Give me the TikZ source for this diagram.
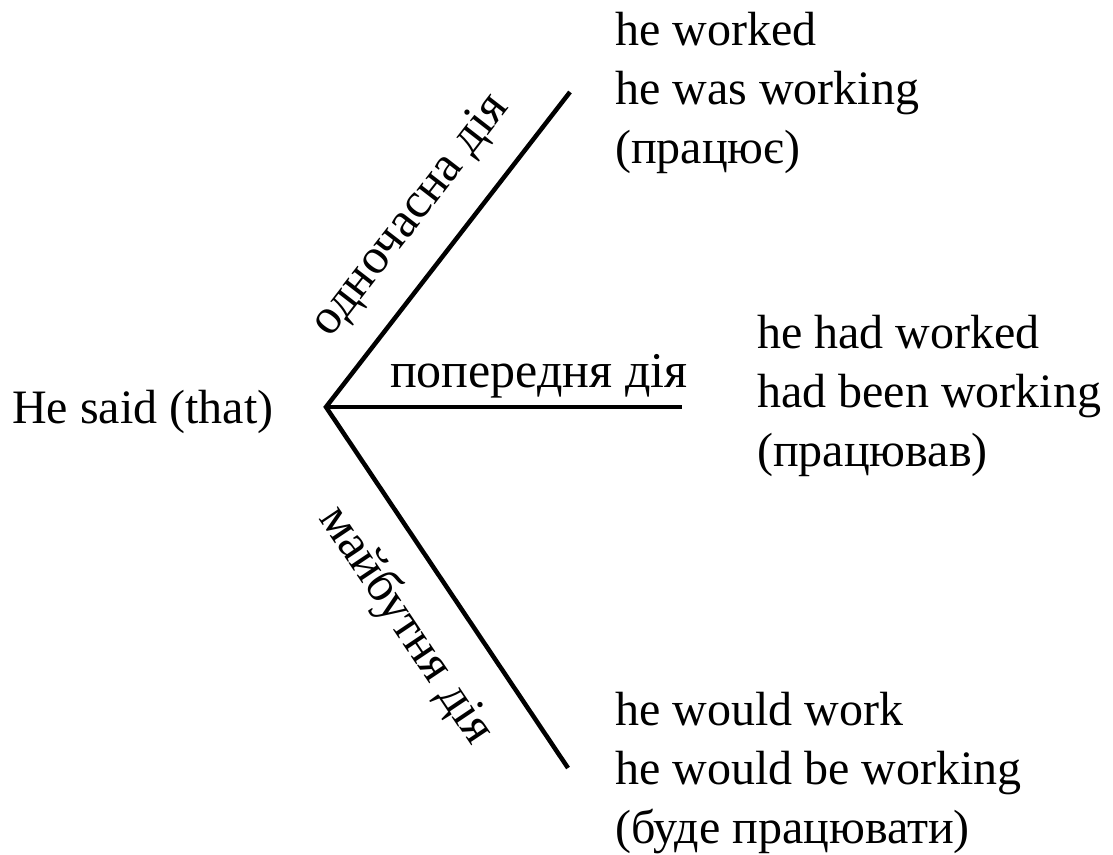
\documentclass[tikz,border=0pt]{standalone}
\usepackage{fontspec}
\setmainfont{Liberation Serif}
\usetikzlibrary{calc}
\begin{document}
\begin{tikzpicture}[x=1pt,y=1pt,
  txt/.style={font=\fontsize{48}{58}\selectfont, inner sep=0pt, anchor=base west},
  lbl/.style={font=\fontsize{50}{60}\selectfont, inner sep=0pt},
  branch/.style={line width=4.5pt, line cap=butt}]
\useasboundingbox (0,0) rectangle (1113,-854);
\coordinate (V) at (326,-407);
\coordinate (U) at (570,-92);
\coordinate (M) at (682,-407);
\coordinate (L) at (568,-768);
\draw[branch, line join=miter] (U) -- (V) -- (L);
\draw[branch] (V) -- (M);
\node[txt] (said) at (12,-423) {He said (that)};
\node[txt] (u1) at (615,-45) {he worked};
\node[txt] (u2) at (615,-104) {he was working};
\node[txt] (u3) at (615,-163) {(працює)};
\node[txt] (m1) at (757,-348) {he had worked};
\node[txt] (m2) at (757,-407) {had been working};
\node[txt] (m3) at (757,-466) {(працював)};
\node[txt] (l1) at (615,-725) {he would work};
\node[txt] (l2) at (615,-784) {he would be working};
\node[txt] (l3) at (615,-843) {(буде працювати)};
\node[lbl, anchor=base west] (mlbl) at (390,-387) {попередня дія};
\path ($(V)!38pt!90:(U)$) -- ($(U)!38pt!-90:(V)$)
  node[lbl, pos=0.51, sloped, anchor=base] (ulbl) {одночасна дія};
\path ($(V)!68pt!-90:(L)$) -- ($(L)!68pt!90:(V)$)
  node[lbl, pos=0.52, sloped, anchor=base] (llbl) {майбутня дія};
\end{tikzpicture}
\end{document}
